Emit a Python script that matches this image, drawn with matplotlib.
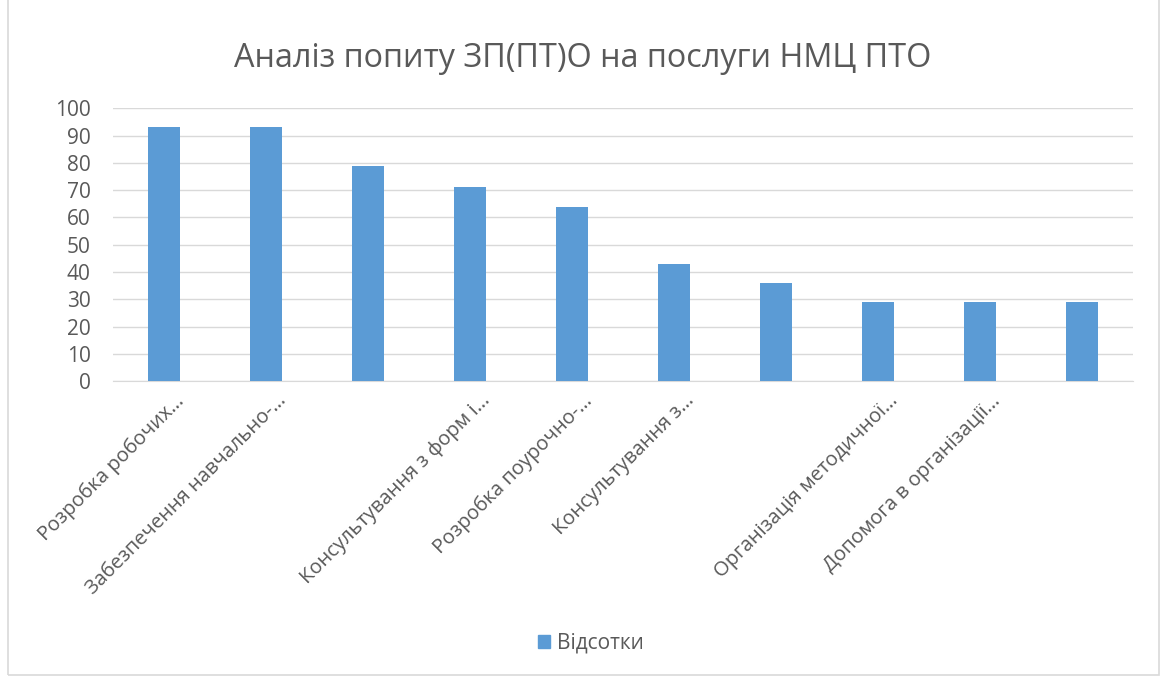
import numpy as np
import matplotlib.pyplot as plt
from matplotlib.patches import Rectangle, Patch

plt.rcParams['font.family'] = ['Open Sans', 'DejaVu Sans']

# data
categories = [
    "Розробка робочих…",
    "Забезпечення навчально-…",
    "",
    "Консультування з форм і…",
    "Розробка поурочно-…",
    "Консультування з…",
    "",
    "Організація методичної…",
    "Допомога в організації…",
    "",
]
values = [93, 93, 79, 71, 64, 43, 36, 29, 29, 29]
yticks = list(range(0, 101, 10))

bar_color = "#5B9BD5"
text_color = "#595959"

fig = plt.figure(figsize=(11.65, 6.77), dpi=100)
ax = fig.add_axes([0.097, 0.437, 0.8755, 0.403])

x = np.arange(len(values))
ax.bar(x, values, width=0.31, color=bar_color, zorder=3)

ax.set_xlim(-0.5, len(values) - 0.5)
ax.set_ylim(0, 100)
ax.set_yticks(yticks)
ax.yaxis.grid(True, color="#D9D9D9", linewidth=1, zorder=0)
ax.tick_params(axis="y", length=0, labelsize=15, labelcolor=text_color, pad=16)
ax.tick_params(axis="x", length=0, labelsize=14.5, labelcolor=text_color, pad=7)
ax.set_xticks(x + 0.1)
ax.set_xticklabels(categories, rotation=45, ha="right", va="top",
                   rotation_mode="anchor")
for side in ["top", "right", "left"]:
    ax.spines[side].set_visible(False)
ax.spines["bottom"].set_color("#D9D9D9")

fig.text(0.5, 0.913, "Аналіз попиту ЗП(ПТ)О на послуги НМЦ ПТО",
         ha="center", va="center", fontsize=23.3, color=text_color)

fig.legend(handles=[Patch(color=bar_color, label="Відсотки")],
           loc="center", bbox_to_anchor=(0.507, 0.05), frameon=False,
           fontsize=15, labelcolor=text_color, handlelength=0.6,
           handleheight=0.6, handletextpad=0.3)

# chart frame
fig.add_artist(Rectangle((0.007, 0.003), 0.988, 1.2, transform=fig.transFigure,
                         fill=False, edgecolor="#D9D9D9", linewidth=1.2))

plt.savefig("out.png", dpi=100)
